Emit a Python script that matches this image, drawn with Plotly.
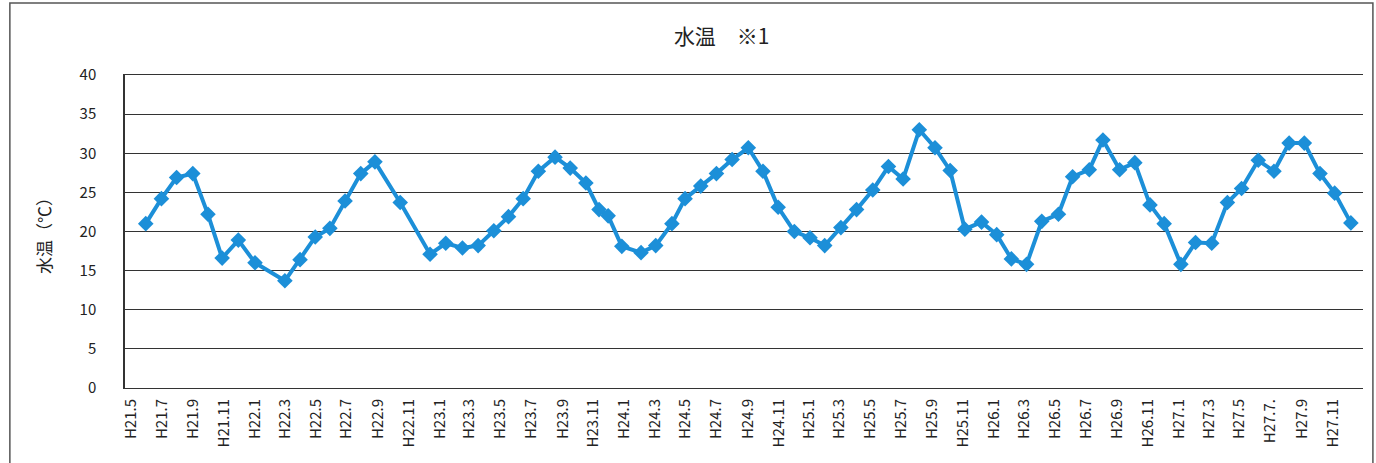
import plotly.graph_objects as go

# sampling dates (read from x positions) and water temperature values (°C)
dates = [
    "2009-05-30", "2009-06-30", "2009-07-30", "2009-08-31", "2009-09-30", "2009-10-28",
    "2009-11-29", "2010-01-01", "2010-03-01", "2010-03-31", "2010-04-30", "2010-05-29",
    "2010-06-28", "2010-07-29", "2010-08-26", "2010-10-15", "2010-12-13", "2011-01-13",
    "2011-02-15", "2011-03-18", "2011-04-18", "2011-05-17", "2011-06-15", "2011-07-15",
    "2011-08-17", "2011-09-16", "2011-10-17", "2011-11-12", "2011-11-30", "2011-12-27",
    "2012-02-03", "2012-03-03", "2012-04-04", "2012-04-30", "2012-05-31", "2012-07-01",
    "2012-08-01", "2012-09-02", "2012-10-01", "2012-10-31", "2012-12-02", "2013-01-02",
    "2013-01-31", "2013-03-04", "2013-04-04", "2013-05-06", "2013-06-06", "2013-07-05",
    "2013-08-06", "2013-09-06", "2013-10-06", "2013-11-04", "2013-12-07", "2014-01-06",
    "2014-02-04", "2014-03-06", "2014-04-05", "2014-05-08", "2014-06-05", "2014-07-08",
    "2014-08-04", "2014-09-06", "2014-10-06", "2014-11-05", "2014-12-03", "2015-01-05",
    "2015-02-03", "2015-03-07", "2015-04-07", "2015-05-05", "2015-06-07", "2015-07-08",
    "2015-08-07", "2015-09-06", "2015-10-07", "2015-11-05", "2015-12-07",
]
water_temp = [
    21.0, 24.2, 26.9, 27.4, 22.2, 16.6,
    18.9, 16.0, 13.7, 16.4, 19.3, 20.4,
    23.9, 27.4, 28.9, 23.7, 17.1, 18.5,
    17.9, 18.2, 20.1, 21.9, 24.2, 27.7,
    29.5, 28.1, 26.2, 22.8, 22.0, 18.1,
    17.3, 18.2, 21.0, 24.2, 25.8, 27.4,
    29.2, 30.7, 27.7, 23.1, 20.0, 19.2,
    18.2, 20.5, 22.8, 25.3, 28.3, 26.7,
    33.0, 30.7, 27.8, 20.3, 21.2, 19.6,
    16.5, 15.8, 21.3, 22.2, 27.0, 27.9,
    31.7, 27.9, 28.8, 23.4, 21.0, 15.8,
    18.6, 18.5, 23.7, 25.5, 29.1, 27.7,
    31.3, 31.3, 27.4, 24.9, 21.1,
]

# x-axis ticks (every two months) and their labels
tick_dates = [
    "2009-05-01", "2009-07-01", "2009-09-01", "2009-11-01",
    "2010-01-01", "2010-03-01", "2010-05-01", "2010-07-01", "2010-09-01", "2010-11-01",
    "2011-01-01", "2011-03-01", "2011-05-01", "2011-07-01", "2011-09-01", "2011-11-01",
    "2012-01-01", "2012-03-01", "2012-05-01", "2012-07-01", "2012-09-01", "2012-11-01",
    "2013-01-01", "2013-03-01", "2013-05-01", "2013-07-01", "2013-09-01", "2013-11-01",
    "2014-01-01", "2014-03-01", "2014-05-01", "2014-07-01", "2014-09-01", "2014-11-01",
    "2015-01-01", "2015-03-01", "2015-05-01", "2015-07-01", "2015-09-01", "2015-11-01",
]
tick_labels = [
    "H21.5", "H21.7", "H21.9", "H21.11",
    "H22.1", "H22.3", "H22.5", "H22.7", "H22.9", "H22.11",
    "H23.1", "H23.3", "H23.5", "H23.7", "H23.9", "H23.11",
    "H24.1", "H24.3", "H24.5", "H24.7", "H24.9", "H24.11",
    "H25.1", "H25.3", "H25.5", "H25.7", "H25.9", "H25.11",
    "H26.1", "H26.3", "H26.5", "H26.7", "H26.9", "H26.11",
    "H27.1", "H27.3", "H27.5", "H27.7.", "H27.9", "H27.11",
]
y_ticks = [0, 5, 10, 15, 20, 25, 30, 35, 40]

BLUE = "#1c8fd8"
FONT = "Noto Sans CJK JP"

fig = go.Figure()
fig.add_trace(go.Scatter(
    x=dates, y=water_temp, mode="lines+markers",
    line=dict(color=BLUE, width=4),
    marker=dict(symbol="diamond", size=12, color=BLUE),
    showlegend=False, cliponaxis=False,
))

fig.update_layout(
    width=1376, height=463,
    paper_bgcolor="white", plot_bgcolor="white",
    margin=dict(l=125, r=13, t=75, b=75, autoexpand=False),
    font=dict(family=FONT, color="#222222"),
    title=dict(text="水温　※1", x=0.482, xref="paper", xanchor="center",
               y=0.92, yanchor="middle", font=dict(size=21, color="#222222", family=FONT)),
    xaxis=dict(
        type="date", range=["2009-04-19", "2015-12-31"], automargin=False,
        tickmode="array", tickvals=tick_dates, ticktext=tick_labels,
        tickangle=-90, tickfont=dict(size=15, family=FONT, color="#222222"),
        showgrid=False, zeroline=False, showline=True, mirror=True,
        linecolor="#333333", linewidth=1, ticks="",
        ticklabelstandoff=4,
    ),
    yaxis=dict(
        range=[0, 40], tickmode="array", tickvals=y_ticks, automargin=False,
        tickfont=dict(size=15, family=FONT, color="#222222"),
        showgrid=True, gridcolor="#333333", gridwidth=1,
        zeroline=False, showline=True, linecolor="#333333", linewidth=1.5,
        ticks="", ticklabelstandoff=24,
        title=dict(text="水温（℃）", font=dict(size=17, family=FONT, color="#222222"), standoff=24),
    ),
    shapes=[dict(type="rect", xref="paper", yref="paper",
                 x0=-0.093, x1=1.008, y0=-0.3, y1=1.23,
                 line=dict(color="#555555", width=1.5), layer="below")],
)

fig.write_html("out.html", config={"displayModeBar": False},
               post_script="document.body.style.margin='0';")
